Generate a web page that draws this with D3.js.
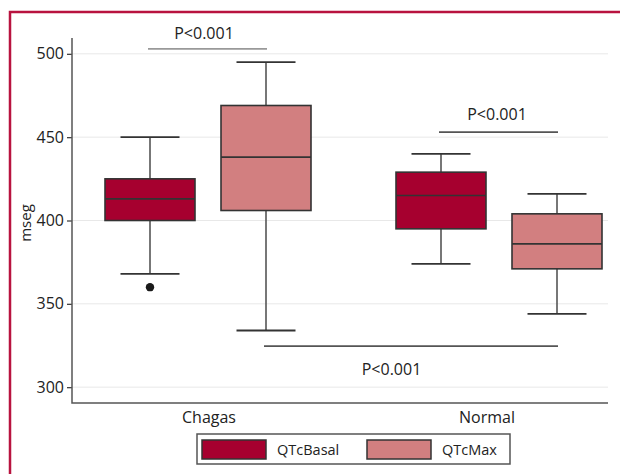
<!DOCTYPE html>
<html>
<head>
<meta charset="utf-8">
<script src="https://cdn.jsdelivr.net/npm/d3@7"></script>
<style>
  html, body { margin: 0; padding: 0; background: #fff; }
  svg { display: block; font-family: "Open Sans", sans-serif; }
</style>
</head>
<body>
<svg id="chart" width="620" height="474"></svg>
<script>
// ---- data ----
const groups = ["Chagas", "Normal"];
const series = ["QTcBasal", "QTcMax"];
const yTicks = [300, 350, 400, 450, 500];
// box stats per group/series: [lowerWhisker, q1, median, q3, upperWhisker]
const chagasBasal = [368, 400, 413, 425, 450];
const chagasMax   = [334, 406, 438, 469, 495];
const normalBasal = [374, 395, 415, 429, 440];
const normalMax   = [344, 371, 386, 404, 416];
const outliers = [{group: "Chagas", series: "QTcBasal", value: 360}];
const pLabels = ["P<0.001", "P<0.001", "P<0.001"];
const pValues = [503, 453, 324.6];
const pFrom = [["Chagas", "QTcBasal"], ["Normal", "QTcBasal"], ["Chagas", "QTcMax"]];
const pTo   = [["Chagas", "QTcMax"],   ["Normal", "QTcMax"],   ["Normal", "QTcMax"]];

const boxes = [
  {group: "Chagas", series: "QTcBasal", stats: chagasBasal},
  {group: "Chagas", series: "QTcMax",   stats: chagasMax},
  {group: "Normal", series: "QTcBasal", stats: normalBasal},
  {group: "Normal", series: "QTcMax",   stats: normalMax}
];

// ---- layout ----
const svg = d3.select("#chart");
const colors = d3.scaleOrdinal().domain(series).range(["#a6002f", "#d27f80"]);
const plotLeft = 72, plotRight = 608, plotTop = 38, plotBottom = 403;

const y = d3.scaleLinear().domain([290.5, 509.5]).range([plotBottom, plotTop]);
const x0 = d3.scalePoint().domain(groups).range([208, 499]);
const xLab = d3.scalePoint().domain(groups).range([209, 487]);
const x1 = d3.scalePoint().domain(series).range([-58, 58]);
const boxW = 90, capW = 59;
const cx = (g, s) => x0(g) + x1(s);

// frame
svg.append("rect").attr("x", 10).attr("y", 12).attr("width", 640).attr("height", 500)
  .attr("fill", "none").attr("stroke", "#b8133f").attr("stroke-width", 2.5);

// gridlines
svg.append("g").selectAll("line").data(yTicks).join("line")
  .attr("x1", plotLeft).attr("x2", plotRight)
  .attr("y1", d => y(d)).attr("y2", d => y(d))
  .attr("stroke", "#e8e8e8").attr("stroke-width", 1);

// y axis
const yAxis = d3.axisLeft(y).tickValues(yTicks).tickSize(5).tickPadding(3);
const gy = svg.append("g").attr("transform", `translate(${plotLeft},0)`).call(yAxis);
gy.select(".domain").remove();
gy.selectAll(".tick line").attr("stroke", "#444").attr("stroke-width", 1.3);
gy.selectAll(".tick text").attr("font-size", 16).attr("fill", "#222")
  .attr("font-family", "Open Sans, sans-serif");

// axis lines
svg.append("path")
  .attr("d", `M${plotLeft},${plotTop}V${plotBottom}H${plotRight}`)
  .attr("fill", "none").attr("stroke", "#555").attr("stroke-width", 1.5);

// y label
svg.append("text").attr("transform", `translate(31,223) rotate(-90)`)
  .attr("text-anchor", "middle").attr("font-size", 15).attr("fill", "#222").text("mseg");

// x labels
svg.append("g").selectAll("text").data(groups).join("text")
  .attr("x", d => xLab(d)).attr("y", 423).attr("text-anchor", "middle")
  .attr("font-size", 16).attr("fill", "#222").text(d => d);

// boxes
const bg = svg.append("g").selectAll("g").data(boxes).join("g");
bg.append("line") // lower whisker
  .attr("x1", d => cx(d.group, d.series)).attr("x2", d => cx(d.group, d.series))
  .attr("y1", d => y(d.stats[0])).attr("y2", d => y(d.stats[1]))
  .attr("stroke", "#555").attr("stroke-width", 1.6);
bg.append("line") // upper whisker
  .attr("x1", d => cx(d.group, d.series)).attr("x2", d => cx(d.group, d.series))
  .attr("y1", d => y(d.stats[3])).attr("y2", d => y(d.stats[4]))
  .attr("stroke", "#555").attr("stroke-width", 1.6);
bg.selectAll("line.cap").data(d => [0, 4].map(i => ({d, v: d.stats[i]}))).join("line")
  .attr("class", "cap")
  .attr("x1", e => cx(e.d.group, e.d.series) - capW / 2)
  .attr("x2", e => cx(e.d.group, e.d.series) + capW / 2)
  .attr("y1", e => y(e.v)).attr("y2", e => y(e.v))
  .attr("stroke", "#333").attr("stroke-width", 1.8);
bg.append("rect")
  .attr("x", d => cx(d.group, d.series) - boxW / 2).attr("width", boxW)
  .attr("y", d => y(d.stats[3])).attr("height", d => y(d.stats[1]) - y(d.stats[3]))
  .attr("fill", d => colors(d.series)).attr("stroke", "#333").attr("stroke-width", 1.6);
bg.append("line") // median
  .attr("x1", d => cx(d.group, d.series) - boxW / 2).attr("x2", d => cx(d.group, d.series) + boxW / 2)
  .attr("y1", d => y(d.stats[2])).attr("y2", d => y(d.stats[2]))
  .attr("stroke", "#333").attr("stroke-width", 1.6);

// outliers
svg.append("g").selectAll("circle").data(outliers).join("circle")
  .attr("cx", d => cx(d.group, d.series)).attr("cy", d => y(d.value)).attr("r", 4.2)
  .attr("fill", "#1a1a1a");

// p-value annotations
const ann = pLabels.map((t, i) => ({t, v: pValues[i], a: pFrom[i], b: pTo[i], i}));
const lineColors = ["#999", "#555", "#555"];
const textDx = [-4, -2, -20];
const textDy = [-10, -12.5, 29];
const ag = svg.append("g").selectAll("g").data(ann).join("g");
ag.append("line")
  .attr("x1", d => cx(d.a[0], d.a[1]) - 2).attr("x2", d => cx(d.b[0], d.b[1]) + 1)
  .attr("y1", d => y(d.v)).attr("y2", d => y(d.v))
  .attr("stroke", d => lineColors[d.i]).attr("stroke-width", 1.6);
ag.append("text")
  .attr("x", d => (cx(d.a[0], d.a[1]) + cx(d.b[0], d.b[1])) / 2 + textDx[d.i])
  .attr("y", d => y(d.v) + textDy[d.i])
  .attr("text-anchor", "middle").attr("font-size", 16).attr("fill", "#222").text(d => d.t);

// legend
const lg = svg.append("g");
lg.append("rect").attr("x", 197).attr("y", 434).attr("width", 313).attr("height", 30)
  .attr("fill", "#fff").attr("stroke", "#555").attr("stroke-width", 1.5);
const li = lg.selectAll("g").data(series).join("g")
  .attr("transform", (d, i) => `translate(${202 + i * 165},440)`);
li.append("rect").attr("width", 64).attr("height", 19)
  .attr("fill", d => colors(d)).attr("stroke", "#333").attr("stroke-width", 1.5);
li.append("text").attr("x", 75).attr("y", 15).attr("font-size", 14.5).attr("fill", "#222").text(d => d);
</script>
</body>
</html>
